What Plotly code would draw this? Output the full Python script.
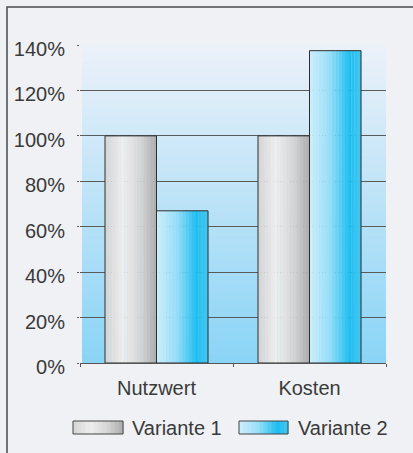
import plotly.graph_objects as go

# ---- data ----
categories = ["Nutzwert", "Kosten"]
variante1 = [100, 100]
variante2 = [67, 137.5]
series_names = ["Variante 1", "Variante 2"]
tick_vals = [0, 20, 40, 60, 80, 100, 120, 140]
tick_text = ["0%", "20%", "40%", "60%", "80%", "100%", "120%", "140%"]

# ---- styling ----
W, H = 413, 453
L, R, T, B = 80, 27, 45, 90
PW, PH = W - L - R, H - T - B
FONT = "Arial, Liberation Sans, sans-serif"
TXT = "#3a3a3a"

grey_stops = [(0.0, (212, 212, 212)), (0.35, (238, 238, 238)), (0.7, (212, 212, 212)), (1.0, (172, 172, 172))]
blue_stops = [(0.0, (205, 238, 251)), (0.4, (150, 222, 248)), (0.78, (30, 190, 240)), (1.0, (70, 198, 240))]


def interp(stops, t):
    for (t0, c0), (t1, c1) in zip(stops[:-1], stops[1:]):
        if t0 <= t <= t1:
            f = (t - t0) / (t1 - t0) if t1 > t0 else 0
            return "rgb(%d,%d,%d)" % tuple(round(a + (b - a) * f) for a, b in zip(c0, c1))
    return "rgb(%d,%d,%d)" % stops[-1][1]


def px2paper_x(px):
    return (px - L) / PW


def px2paper_y(py):
    return (H - B - py) / PH


fig = go.Figure()

bar_w = 0.3366
N = 16
for si, (vals, stops) in enumerate([(variante1, grey_stops), (variante2, blue_stops)]):
    base_off = -bar_w if si == 0 else 0.0
    sw = bar_w / N
    for k in range(N):
        fig.add_trace(go.Bar(
            x=categories, y=vals, width=sw * 1.06, offset=base_off + k * sw,
            marker=dict(color=interp(stops, (k + 0.5) / N), line=dict(width=0)),
            showlegend=False, hoverinfo="skip"))
    fig.add_trace(go.Bar(
        x=categories, y=vals, width=bar_w, offset=base_off, name=series_names[si],
        marker=dict(color="rgba(0,0,0,0)", line=dict(color="#2e2e2e", width=1)),
        showlegend=False))

shapes = []
# plot-area background gradient (vertical)
NB = 40
top_c = (236, 241, 249)
bot_c = (138, 212, 246)
x0d = px2paper_x(82)
for k in range(NB):
    f = (k + 0.5) / NB
    c = tuple(round(b + (t - b) * f) for b, t in zip(bot_c, top_c))
    shapes.append(dict(type="rect", xref="x domain", yref="y domain",
                       x0=x0d, x1=1, y0=k / NB, y1=(k + 1) / NB + 0.002,
                       fillcolor="rgb(%d,%d,%d)" % c, line=dict(width=0), layer="below"))

# outer frame
shapes.append(dict(type="rect", xref="paper", yref="paper",
                   x0=px2paper_x(7), x1=px2paper_x(W + 20),
                   y0=px2paper_y(H + 20), y1=px2paper_y(7),
                   line=dict(color="#4a4a4a", width=1.5), fillcolor="rgba(0,0,0,0)"))

# manual legend
annotations = []
legend_items = [(73, 123, 130, grey_stops), (239, 288, 296, blue_stops)]
for name, (lx0, lx1, tx, stops) in zip(series_names, legend_items):
    NL = 12
    step = (lx1 - lx0) / NL
    for k in range(NL):
        shapes.append(dict(type="rect", xref="paper", yref="paper",
                           x0=px2paper_x(lx0 + k * step), x1=px2paper_x(lx0 + (k + 1) * step + 0.5),
                           y0=px2paper_y(434), y1=px2paper_y(421),
                           fillcolor=interp(stops, (k + 0.5) / NL), line=dict(width=0)))
    shapes.append(dict(type="rect", xref="paper", yref="paper",
                       x0=px2paper_x(lx0), x1=px2paper_x(lx1),
                       y0=px2paper_y(434), y1=px2paper_y(421),
                       fillcolor="rgba(0,0,0,0)", line=dict(color="#444", width=1)))
    annotations.append(dict(text=name, xref="paper", yref="paper",
                            x=px2paper_x(tx), y=px2paper_y(428), xanchor="left", yanchor="middle",
                            showarrow=False, font=dict(family=FONT, size=20, color=TXT)))

fig.update_layout(
    width=W, height=H,
    margin=dict(l=L, r=R, t=T, b=B),
    paper_bgcolor="#eff1f4", plot_bgcolor="rgba(0,0,0,0)",
    barmode="overlay", showlegend=False,
    shapes=shapes, annotations=annotations,
    font=dict(family=FONT, size=20, color=TXT),
    xaxis=dict(type="category", showgrid=False, showline=True, linecolor="#555", linewidth=1,
               ticks="outside", tickson="boundaries", ticklen=3, tickcolor="#555",
               ticklabelstandoff=7,
               tickfont=dict(family=FONT, size=20, color=TXT), range=[-0.5, 1.5], fixedrange=True),
    yaxis=dict(range=[0, 140], tickvals=tick_vals, ticktext=tick_text, showgrid=True,
               gridcolor="#5a5a5a", gridwidth=1, zeroline=False, showline=False,
               ticks="outside", ticklen=2, tickcolor="#5a5a5a", ticklabelstandoff=8,
               ticklabelshift=4,
               tickfont=dict(family=FONT, size=20, color=TXT), fixedrange=True),
)

fig.write_html("out.html", config={"displayModeBar": False},
               post_script="document.body.style.margin='0';document.body.style.padding='0';")
